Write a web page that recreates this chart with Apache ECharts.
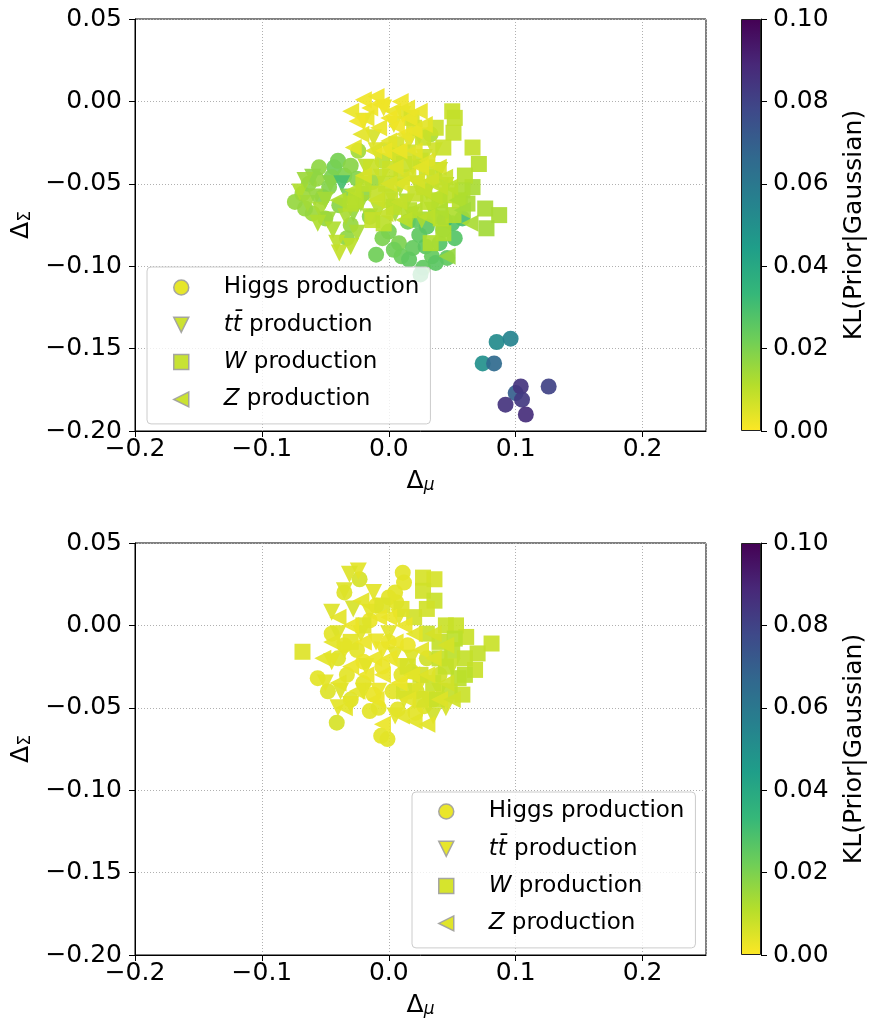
<!DOCTYPE html>
<html><head><meta charset="utf-8">
<script src="https://cdn.jsdelivr.net/npm/echarts@6/dist/echarts.min.js"></script>
<style>html,body{margin:0;padding:0;background:#fff}#c{width:869px;height:1030px}</style>
</head><body><div id="c"></div><script>
// ---------- data: [Δμ, ΔΣ, KL] ----------
const seriesNames = ['Higgs production', 'ttbar production', 'W production', 'Z production'];
const xTicks = [-0.2, -0.1, 0.0, 0.1, 0.2];
const yTicks = [-0.20, -0.15, -0.10, -0.05, 0.00, 0.05];
const cbTicks = [0.00, 0.02, 0.04, 0.06, 0.08, 0.10];

const topHiggs = [
 [-0.074,-0.061,0.016],[-0.068,-0.056,0.015],[-0.063,-0.050,0.017],[-0.057,-0.047,0.016],
 [-0.052,-0.058,0.018],[-0.047,-0.052,0.019],[-0.043,-0.040,0.022],[-0.040,-0.036,0.021],
 [-0.035,-0.045,0.020],[-0.030,-0.039,0.018],[-0.025,-0.047,0.019],[-0.039,-0.063,0.018],
 [-0.020,-0.056,0.017],[-0.013,-0.049,0.015],[-0.060,-0.068,0.015],[-0.050,-0.071,0.016],
 [-0.030,-0.075,0.016],[-0.033,-0.083,0.017],[-0.010,-0.093,0.022],[0.000,-0.079,0.021],
 [0.008,-0.086,0.020],[0.015,-0.073,0.022],[0.019,-0.089,0.024],[0.024,-0.081,0.025],
 [0.029,-0.088,0.026],[0.034,-0.094,0.024],[0.040,-0.086,0.027],[0.046,-0.095,0.025],
 [0.037,-0.098,0.026],[0.027,-0.101,0.025],[0.025,-0.105,0.030],[0.021,-0.072,0.025],
 [0.036,-0.070,0.023],[0.050,-0.074,0.028],[0.052,-0.083,0.027],[0.058,-0.071,0.030],
 [0.006,-0.032,0.012],[-0.005,-0.036,0.010],[0.033,-0.020,0.012],[-0.024,-0.030,0.014],
 [0.044,-0.072,0.032],[0.010,-0.094,0.023],[0.016,-0.096,0.025],[0.004,-0.090,0.022],
 [0.030,-0.076,0.026],[-0.005,-0.083,0.020],[0.043,-0.078,0.028],[-0.066,-0.065,0.016],
 [-0.045,-0.046,0.020],[-0.055,-0.040,0.017],[-0.015,-0.070,0.018],
 [0.074,-0.159,0.050],[0.085,-0.146,0.052],[0.096,-0.144,0.055],[0.083,-0.159,0.066],
 [0.100,-0.177,0.070],[0.104,-0.173,0.085],[0.126,-0.173,0.080],[0.105,-0.181,0.083],
 [0.092,-0.184,0.085],[0.108,-0.190,0.087]
];
const topTtbar = [
 [-0.070,-0.055,0.012],[-0.064,-0.062,0.014],[-0.058,-0.058,0.016],[-0.054,-0.066,0.013],
 [-0.048,-0.072,0.015],[-0.044,-0.078,0.012],[-0.041,-0.086,0.010],[-0.039,-0.092,0.009],
 [-0.046,-0.050,0.018],[-0.037,-0.050,0.030],[-0.032,-0.058,0.020],[-0.028,-0.068,0.016],
 [-0.022,-0.062,0.014],[-0.018,-0.040,0.010],[-0.012,-0.022,0.006],[-0.006,-0.046,0.009],
 [0.000,-0.030,0.007],[0.004,-0.014,0.004],[0.009,-0.052,0.010],[0.014,-0.061,0.012],
 [0.019,-0.040,0.008],[0.024,-0.021,0.006],[0.030,-0.055,0.011],[0.034,-0.066,0.014],
 [0.040,-0.042,0.010],[0.045,-0.051,0.012],[0.011,-0.008,0.004],[-0.004,-0.004,0.003],
 [0.018,-0.069,0.016],[-0.060,-0.046,0.017],[-0.025,-0.080,0.013],[0.028,-0.034,0.008],
 [-0.015,-0.070,0.012],[0.005,-0.068,0.014],[-0.020,-0.012,0.004],[-0.010,-0.030,0.005],
 [0.006,-0.036,0.006],[0.016,-0.024,0.005],[0.022,-0.050,0.009],[-0.050,-0.060,0.014],
 [-0.066,-0.048,0.015],[-0.034,-0.070,0.013],[-0.030,-0.088,0.010],[0.002,-0.058,0.010],
 [0.036,-0.030,0.007],[-0.008,-0.066,0.011],[0.026,-0.072,0.013],[-0.056,-0.074,0.012]
];
const topW = [
 [0.050,-0.006,0.008],[0.052,-0.010,0.009],[0.051,-0.019,0.009],[0.037,-0.016,0.008],
 [0.027,-0.022,0.008],[0.043,-0.028,0.008],[0.066,-0.028,0.009],[0.071,-0.038,0.011],
 [0.066,-0.052,0.013],[0.076,-0.065,0.013],[0.087,-0.069,0.013],[0.077,-0.077,0.014],
 [0.051,-0.069,0.012],[0.056,-0.060,0.011],[0.046,-0.057,0.010],[0.036,-0.046,0.009],
 [0.025,-0.036,0.008],[0.015,-0.031,0.007],[0.010,-0.046,0.008],[0.021,-0.056,0.009],
 [0.031,-0.061,0.010],[0.001,-0.041,0.008],[0.001,-0.060,0.009],[-0.009,-0.056,0.009],
 [-0.013,-0.072,0.009],[-0.004,-0.074,0.010],[0.043,-0.080,0.012],[0.041,-0.071,0.011],
 [0.020,-0.016,0.006],[0.006,-0.026,0.006],[0.060,-0.045,0.011],[-0.014,-0.040,0.008],
 [0.030,-0.040,0.008],[0.012,-0.038,0.008],[-0.002,-0.050,0.009],[-0.020,-0.050,0.010],
 [0.004,-0.064,0.010],[0.016,-0.066,0.011],[0.028,-0.052,0.009],[0.040,-0.060,0.011],
 [0.058,-0.054,0.012],[0.062,-0.062,0.013],[0.033,-0.086,0.012],[0.018,-0.010,0.006],
 [-0.026,-0.060,0.011],[-0.030,-0.062,0.011]
];
const topZ = [
 [-0.015,-0.004,0.002],[-0.006,-0.002,0.002],[0.003,-0.006,0.003],[0.009,0.000,0.002],
 [0.016,-0.010,0.003],[0.024,-0.006,0.003],[-0.008,-0.016,0.003],[0.000,-0.024,0.004],
 [0.012,-0.020,0.003],[0.020,-0.030,0.004],[0.030,-0.036,0.005],[0.039,-0.040,0.006],
 [0.044,-0.046,0.008],[0.048,-0.052,0.010],[0.054,-0.060,0.012],[0.064,-0.074,0.013],
 [0.036,-0.058,0.010],[0.027,-0.054,0.009],[0.015,-0.045,0.006],[0.005,-0.040,0.005],
 [-0.012,-0.030,0.005],[-0.022,-0.020,0.004],[-0.018,-0.010,0.003],[0.008,-0.061,0.009],
 [0.020,-0.066,0.011],[0.040,-0.066,0.012],[0.046,-0.094,0.016],[-0.028,-0.054,0.010],
 [-0.040,-0.060,0.012],[-0.003,-0.068,0.009],[0.058,-0.066,0.014],[-0.030,-0.006,0.003],
 [-0.025,-0.012,0.002],[-0.020,0.001,0.002],[-0.010,0.003,0.002],[0.000,-0.010,0.002],
 [0.006,-0.015,0.002],[0.014,-0.004,0.003],[0.020,-0.018,0.003],[0.028,-0.014,0.004],
 [-0.004,-0.030,0.003],[0.008,-0.030,0.003],[0.025,-0.040,0.004],[0.010,-0.050,0.005],
 [0.022,-0.048,0.006],[0.033,-0.048,0.007],[0.030,-0.070,0.010],[0.012,-0.072,0.010],
 [-0.020,-0.045,0.006],[-0.010,-0.060,0.008],[0.040,-0.052,0.009],[-0.028,-0.028,0.004],
 [0.000,-0.050,0.006]
];

const botHiggs = [
 [0.011,0.032,0.004],[0.012,0.026,0.004],[-0.023,0.028,0.006],[-0.035,0.020,0.005],
 [0.000,0.017,0.004],[0.006,0.014,0.004],[-0.010,0.012,0.003],[-0.041,-0.059,0.006],
 [-0.006,-0.067,0.004],[-0.001,-0.069,0.004],[-0.056,-0.032,0.004],[0.007,-0.051,0.004],
 [0.028,-0.049,0.005],[0.021,-0.053,0.004],[-0.030,-0.045,0.005],[-0.020,-0.035,0.004],
 [-0.012,-0.042,0.003],[-0.005,-0.025,0.003],[0.010,-0.030,0.004],[0.015,-0.012,0.003],
 [-0.025,-0.015,0.004],[-0.040,-0.020,0.005],[-0.033,-0.030,0.004],[0.003,-0.040,0.004],
 [0.022,-0.040,0.006],[-0.015,-0.052,0.004],[-0.045,-0.005,0.004],[-0.015,0.003,0.003],
 [0.030,-0.020,0.007],[0.040,-0.030,0.007],[-0.035,-0.012,0.004],[-0.020,-0.022,0.003],
 [0.000,-0.010,0.003],[0.018,-0.028,0.005],[-0.008,-0.050,0.004],[0.035,-0.045,0.006],
 [-0.048,-0.040,0.005],[0.005,0.020,0.004]
];
const botTtbar = [
 [-0.024,0.033,0.004],[-0.031,0.031,0.005],[-0.035,0.021,0.005],[-0.028,0.010,0.006],
 [-0.040,-0.005,0.005],[-0.045,-0.022,0.004],[-0.050,-0.035,0.004],[-0.038,-0.040,0.005],
 [-0.030,-0.048,0.004],[-0.018,-0.025,0.004],[-0.010,-0.010,0.003],[0.000,-0.005,0.004],
 [0.008,0.005,0.004],[0.018,-0.020,0.005],[0.025,-0.035,0.005],[0.040,-0.040,0.006],
 [0.045,-0.050,0.006],[0.035,-0.055,0.007],[0.050,-0.025,0.008],[-0.008,-0.040,0.003],
 [0.012,-0.045,0.005],[-0.022,-0.005,0.004],[0.005,-0.018,0.004],[-0.015,0.008,0.004],
 [-0.045,0.008,0.005],[-0.035,-0.015,0.004],[-0.020,-0.040,0.004],[-0.005,-0.015,0.003],
 [0.010,-0.025,0.004],[0.020,-0.040,0.005],[-0.040,-0.050,0.004],[0.030,-0.045,0.006],
 [-0.012,0.020,0.004],[0.005,-0.055,0.004]
];
const botW = [
 [0.027,0.029,0.006],[0.036,0.028,0.006],[0.027,0.021,0.007],[0.036,0.015,0.008],
 [-0.068,-0.016,0.005],[0.081,-0.011,0.008],[0.070,-0.017,0.009],[0.068,-0.027,0.008],
 [0.058,-0.042,0.008],[0.061,-0.007,0.008],[0.053,0.000,0.008],[0.045,0.000,0.008],
 [0.040,-0.010,0.009],[0.050,-0.015,0.010],[0.045,-0.025,0.009],[0.030,-0.005,0.008],
 [0.020,0.005,0.007],[0.010,0.010,0.005],[-0.005,0.012,0.005],[-0.020,0.000,0.005],
 [0.035,-0.035,0.008],[0.025,-0.045,0.006],[0.055,-0.032,0.010],[-0.030,-0.010,0.004],
 [0.015,-0.025,0.006],[0.060,-0.020,0.009],[0.040,-0.020,0.009],[0.025,-0.030,0.007],
 [0.060,-0.030,0.010],[0.048,-0.040,0.009],[0.012,-0.040,0.006],[0.030,0.010,0.007],
 [0.052,-0.008,0.010],[0.038,-0.045,0.008]
];
const botZ = [
 [-0.052,-0.020,0.004],[-0.045,-0.010,0.004],[-0.040,0.005,0.004],[-0.030,0.000,0.003],
 [-0.020,-0.010,0.003],[-0.012,-0.020,0.003],[-0.005,-0.030,0.003],[0.005,-0.010,0.003],
 [0.012,0.000,0.003],[0.018,-0.030,0.004],[0.025,-0.015,0.004],[0.035,-0.020,0.005],
 [0.045,-0.012,0.006],[0.040,-0.045,0.005],[0.050,-0.045,0.007],[0.030,-0.060,0.004],
 [-0.025,-0.040,0.004],[-0.035,-0.050,0.004],[-0.010,-0.045,0.003],[0.000,0.005,0.003],
 [-0.005,-0.060,0.003],[0.020,-0.058,0.004],[-0.030,-0.025,0.003],[-0.018,-0.030,0.003],
 [0.000,-0.020,0.003],[0.008,-0.035,0.003],[0.015,-0.045,0.004],[-0.008,0.005,0.003],
 [0.030,-0.030,0.005],[0.020,-0.005,0.004],[-0.040,-0.035,0.004],[0.010,-0.055,0.004],
 [0.035,-0.005,0.006],[-0.022,0.015,0.004],[0.045,-0.035,0.007]
];

// legend icon colours (as in the figure's legend)
const topLegendColors = ['#e4e419', '#c8e020', '#c2df23', '#c6e021'];
const botLegendColors = ['#e8e419', '#e5e419', '#d2e21b', '#dde318'];

// viridis reversed: KL 0 -> yellow, KL 0.1 -> purple
const viridisR = ['#fde725','#b5de2b','#6ece58','#35b779','#1f9e89','#26828e','#31688e','#3e4989','#482878','#440154'];

// ---------- chart ----------
const FONT = 'DejaVu Sans';
const fmt = (v, d) => { const s = Math.abs(v).toFixed(d); return (v < -1e-9 ? '\u2212' : '') + s; };

const grids = [
  {left:135, top:19, width:571, height:412},
  {left:135, top:543, width:571, height:412},
  {left:741, top:19, width:20, height:412},
  {left:741, top:543, width:20, height:412}
].map((g,i) => Object.assign(g, i < 2 ? {show:true, borderColor:'#000', borderWidth:1, backgroundColor:'transparent'} : {show:false}));

const mainX = gi => ({
  type:'value', gridIndex:gi, min:xTicks[0], max:0.25, interval:0.1,
  name:'{a|Δ}{b|μ}', nameLocation:'middle', nameGap:33,
  nameTextStyle:{rich:{a:{fontSize:25, fontFamily:FONT, color:'#000', lineHeight:30, verticalAlign:'bottom'},
                        b:{fontSize:17, fontFamily:FONT, fontStyle:'italic', color:'#000', lineHeight:14, verticalAlign:'bottom'}}},
  axisLine:{show:true, onZero:false, lineStyle:{color:'#000', width:1}},
  axisTick:{show:true, length:6, lineStyle:{color:'#000'}},
  axisLabel:{fontSize:25, fontFamily:FONT, color:'#000', margin:6, showMaxLabel:false,
             formatter: v => fmt(v,1)},
  splitLine:{show:true, lineStyle:{color:'#b0b0b0', type:[1,2], width:1}}
});
const mainY = gi => ({
  type:'value', gridIndex:gi, min:yTicks[0], max:yTicks[yTicks.length-1], interval:0.05,
  name:'{a|Δ}{b|Σ}', nameLocation:'middle', nameGap:100, nameRotate:90,
  nameTextStyle:{rich:{a:{fontSize:25, fontFamily:FONT, color:'#000', lineHeight:30, verticalAlign:'bottom'},
                        b:{fontSize:17, fontFamily:FONT, color:'#000', lineHeight:14, verticalAlign:'bottom'}}},
  axisLine:{show:true, onZero:false, lineStyle:{color:'#000', width:1}},
  axisTick:{show:true, length:6, lineStyle:{color:'#000'}},
  axisLabel:{fontSize:25, fontFamily:FONT, color:'#000', margin:13, formatter: v => fmt(v,2)},
  splitLine:{show:true, lineStyle:{color:'#b0b0b0', type:[1,2], width:1}}
});
const cbX = gi => ({type:'category', gridIndex:gi, data:[''], show:false, boundaryGap:true});
const cbY = gi => ({
  type:'value', gridIndex:gi, position:'right', min:cbTicks[0], max:cbTicks[cbTicks.length-1], interval:0.02,
  name:'KL(Prior|Gaussian)', nameLocation:'middle', nameGap:81, nameRotate:90,
  nameTextStyle:{fontSize:25, fontFamily:FONT, color:'#000'},
  axisLine:{show:true, lineStyle:{color:'#000', width:1}},
  axisTick:{show:true, length:6, lineStyle:{color:'#000'}},
  axisLabel:{fontSize:25, fontFamily:FONT, color:'#000', margin:12, formatter: v => v.toFixed(2)},
  splitLine:{show:false}
});

const gradient = {type:'linear', x:0, y:1, x2:0, y2:0,
  colorStops: viridisR.map((c,i) => ({offset:i/(viridisR.length-1), color:c}))};

const symbols = [['circle',0],['triangle',180],['rect',0],['triangle',90]];
const legendIcons = ['circle', 'path://M0,0L10,0L5,10Z', 'rect', 'path://M10,0L10,10L0,5Z'];
const sc = (k, data, gi) => ({
  type:'scatter', name:seriesNames[k], data, xAxisIndex:gi, yAxisIndex:gi,
  symbol:symbols[k][0], symbolRotate:symbols[k][1], symbolSize:k === 0 || k === 2 ? 16 : 17, clip:true,
  itemStyle:{opacity:0.92, borderWidth:0}, emphasis:{disabled:true}
});

const series = [
  sc(0, topHiggs, 0), sc(1, topTtbar, 0), sc(2, topW, 0), sc(3, topZ, 0),
  sc(0, botHiggs, 1), sc(1, botTtbar, 1), sc(2, botW, 1), sc(3, botZ, 1),
  {type:'bar', xAxisIndex:2, yAxisIndex:2, data:[cbTicks[cbTicks.length-1]], barWidth:'100%', silent:true,
   itemStyle:{color:gradient, borderColor:'#222', borderWidth:1}},
  {type:'bar', xAxisIndex:3, yAxisIndex:3, data:[cbTicks[cbTicks.length-1]], barWidth:'100%', silent:true,
   itemStyle:{color:gradient, borderColor:'#222', borderWidth:1}}
];

const legendText = {
  'Higgs production':'{sp| }{n|Higgs production}',
  'ttbar production':'{sp| }{i|tt\u0304}{n| production}',
  'W production':'{sp| }{i|W}{n| production}',
  'Z production':'{sp| }{i|Z}{n| production}'
};
const mkLegend = (left, top, padding, colors) => ({
  orient:'vertical', left, top, padding, itemWidth:15, itemHeight:15, itemGap:14.3,
  selectedMode:false, backgroundColor:'rgba(255,255,255,0.8)', borderColor:'#cccccc', borderWidth:1, borderRadius:4,
  data: seriesNames.map((n,i) => ({name:n, icon:legendIcons[i],
        itemStyle:{color:colors[i], borderColor:'#a0a0a0', borderWidth:1.5}})),
  formatter: n => legendText[n],
  textStyle:{fontSize:23, fontFamily:FONT, color:'#000',
    rich:{sp:{width:30}, n:{fontSize:23, fontFamily:FONT, color:'#000', lineHeight:22},
          i:{fontSize:23, fontFamily:FONT, fontStyle:'italic', color:'#000', lineHeight:22}}}
});

const chart = echarts.init(document.getElementById('c'), null, {renderer:'canvas'});
chart.setOption({
  animation:false,
  backgroundColor:'#fff',
  grid: grids,
  xAxis:[mainX(0), mainX(1), cbX(2), cbX(3)],
  yAxis:[mainY(0), mainY(1), cbY(2), cbY(3)],
  visualMap:[{type:'continuous', show:false, min:0, max:0.1, dimension:2,
              seriesIndex:[0,1,2,3,4,5,6,7], inRange:{color:viridisR}}],
  legend:[mkLegend(147, 267, [9,11,13,26], topLegendColors), mkLegend(412, 792, [8,11,13,26], botLegendColors)],
  series
});
</script></body></html>
